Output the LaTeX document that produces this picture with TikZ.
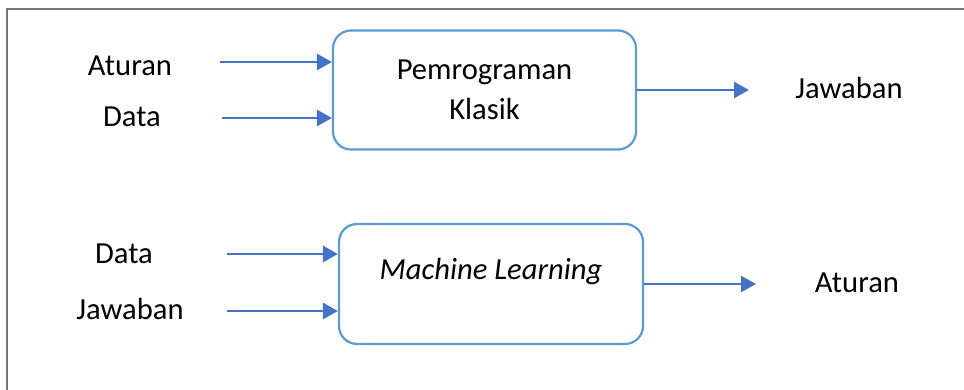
\documentclass[tikz,border=0pt]{standalone}
\usepackage{fontspec}
\setmainfont{Carlito}
\usetikzlibrary{arrows.meta}
\definecolor{boxblue}{HTML}{5B9BD5}
\definecolor{arrowblue}{HTML}{4472C4}

\begin{document}
\begin{tikzpicture}[
    x=0.5pt, y=0.5pt,
    every node/.style={font=\fontsize{15.3}{20}\selectfont},
    word/.style={anchor=base},
    procbox/.style={draw=boxblue, line width=1.1pt, rounded corners=9pt, minimum width=151.5pt, minimum height=59.5pt, align=center, inner sep=0pt},
    flow/.style={draw=arrowblue, line width=1.4pt, -{Triangle[length=7.5pt,width=8pt]}}
]
\useasboundingbox (0,0) rectangle (964,390);

% Frame
\draw[black!55, line width=0.8pt] (7,0) -- (7,381) -- (964,381);

% Classic programming
\node[procbox] (klasik) at (484.5,300) {Pemrograman\\Klasik};
\node[word] (aturanA) at (130,314) {Aturan};
\node[word] (dataA) at (132,263) {Data};
\node[word] (jawabanA) at (849,291) {Jawaban};
\coordinate (inA1) at (220,328);
\coordinate (inA2) at (222,272);
\coordinate (outA) at (749,300);

% Machine learning
\node[procbox, minimum width=152pt, minimum height=60pt,
    label={[font=\fontsize{15.3}{20}\selectfont\itshape, yshift=6pt]center:Machine Learning}] (ml) at (491,106) {};
\node[word] (dataB) at (124,126) {Data};
\node[word] (jawabanB) at (130,70) {Jawaban};
\node[word] (aturanB) at (857,97) {Aturan};
\coordinate (inB1) at (227,136);
\coordinate (inB2) at (227,79);
\coordinate (outB) at (756,106);

% Arrows
\draw[flow] (inA1) -- (inA1 -| klasik.west);
\draw[flow] (inA2) -- (inA2 -| klasik.west);
\draw[flow] (klasik.east) -- (outA);
\draw[flow] (inB1) -- (inB1 -| ml.west);
\draw[flow] (inB2) -- (inB2 -| ml.west);
\draw[flow] (ml.east) -- (outB);

\end{tikzpicture}
\end{document}
